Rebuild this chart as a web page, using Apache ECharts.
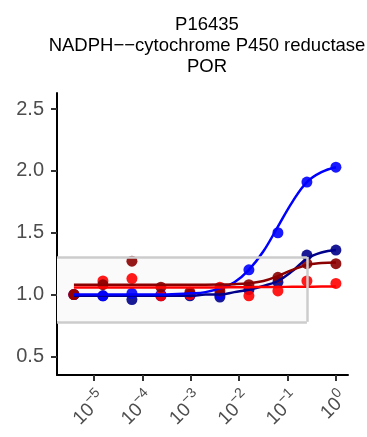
<!DOCTYPE html>
<html>
<head>
<meta charset="utf-8">
<script src="https://cdn.jsdelivr.net/npm/echarts@6/dist/echarts.min.js"></script>
<style>
  html, body { margin: 0; padding: 0; background: #fff; }
  #chart { width: 367px; height: 437px; }
</style>
</head>
<body>
<div id="chart"></div>
<script>
// log10 of dose for the measured points
var logDose = [-5.42, -4.82, -4.22, -3.62, -3.02, -2.40, -1.80, -1.20, -0.60, 0];
var bluePts   = [1.00, 0.99, 1.01, 1.00, 1.00, 1.00, 1.20, 1.50, 1.91, 2.03];
var navyPts   = [1.00, 0.99, 0.96, 0.99, 0.99, 0.98, 1.04, 1.10, 1.32, 1.36];
var redPts    = [1.00, 1.11, 1.13, 0.99, 1.00, 1.06, 0.99, 1.03, 1.11, 1.09];
var maroonPts = [1.00, 1.08, 1.27, 1.06, 1.02, 1.03, 1.08, 1.14, 1.25, 1.25];

// fitted curves
var curveDose   = [-5.42, -4.5, -3.6, -3.0, -2.7, -2.4, -2.1, -1.8, -1.5, -1.2, -0.9, -0.6, -0.3, 0];
var blueCurve   = [1.00, 1.00, 1.00, 1.01, 1.02, 1.05, 1.10, 1.20, 1.35, 1.55, 1.75, 1.91, 1.99, 2.03];
var navyCurve   = [0.99, 0.99, 0.99, 0.99, 1.00, 1.00, 1.02, 1.04, 1.07, 1.11, 1.19, 1.29, 1.34, 1.36];
var redCurve    = [1.058, 1.058, 1.058, 1.058, 1.058, 1.058, 1.059, 1.06, 1.061, 1.062, 1.063, 1.064, 1.065, 1.065];
var maroonCurve = [1.08, 1.08, 1.08, 1.08, 1.08, 1.081, 1.084, 1.092, 1.11, 1.15, 1.20, 1.24, 1.255, 1.26];

var xTicks = [-5, -4, -3, -2, -1, 0];
var yTicks = [0.5, 1.0, 1.5, 2.0, 2.5];
var xRange = [-5.77, 0.25];
var yRange = [0.35, 2.63];
var boxX = [-5.77, -0.6];
var boxY = [0.78, 1.305];

var titleText = 'P16435\nNADPH\u2212\u2212cytochrome P450 reductase\nPOR';

function pairs(xs, ys) {
    var out = [];
    for (var i = 0; i < xs.length; i++) {
        out.push([xs[i], ys[i]]);
    }
    return out;
}

var colors = {blue: '#0000ff', navy: '#00008b', red: '#ff0000', maroon: '#8b0000'};
var order = [
    ['navy', navyCurve, navyPts],
    ['blue', blueCurve, bluePts],
    ['red', redCurve, redPts],
    ['maroon', maroonCurve, maroonPts]
];

// grey box: light fill, border on top, bottom and right (left side runs into the axis)
var series = [{
    type: 'line',
    data: [],
    silent: true,
    markArea: {
        silent: true,
        itemStyle: {color: '#fafafa'},
        data: [[{xAxis: boxX[0], yAxis: boxY[1]}, {xAxis: boxX[1], yAxis: boxY[0]}]]
    },
    markLine: {
        silent: true,
        symbol: 'none',
        label: {show: false},
        lineStyle: {color: '#cccccc', width: 2.5, type: 'solid'},
        data: [
            [{coord: [boxX[0], boxY[1]]}, {coord: [boxX[1], boxY[1]]}],
            [{coord: [boxX[0], boxY[0]]}, {coord: [boxX[1], boxY[0]]}],
            [{coord: [boxX[1], boxY[0]]}, {coord: [boxX[1], boxY[1]]}]
        ]
    }
}];
order.forEach(function (o) {
    series.push({
        type: 'line',
        data: pairs(curveDose, o[1]),
        smooth: 0.4,
        symbol: 'none',
        lineStyle: {color: colors[o[0]], width: 2.5},
        silent: true
    });
});
order.forEach(function (o) {
    series.push({
        type: 'scatter',
        data: pairs(logDose, o[2]),
        symbolSize: 11,
        itemStyle: {color: colors[o[0]], opacity: 0.9},
        silent: true
    });
});

var chart = echarts.init(document.getElementById('chart'), null, {renderer: 'canvas'});
chart.setOption({
    animation: false,
    textStyle: {fontFamily: 'Liberation Sans'},
    title: {
        text: titleText,
        left: 202,
        top: 9,
        textAlign: 'center',
        textStyle: {fontSize: 18.5, lineHeight: 21, fontWeight: 'normal', color: '#000'}
    },
    grid: {left: 57, right: 19, top: 93, bottom: 62},
    xAxis: {
        type: 'value',
        min: xRange[0],
        max: xRange[1],
        splitLine: {show: false},
        axisLine: {onZero: false, lineStyle: {color: '#000', width: 2}},
        axisTick: {show: true, length: 6, lineStyle: {color: '#333', width: 2}, customValues: xTicks},
        axisLabel: {
            customValues: xTicks,
            rotate: 45,
            margin: 12,
            padding: [24, 0, 0, 0],
            color: '#4d4d4d',
            formatter: function (v) {
                return '{b|10}{s|' + String(v).replace('-', '\u2212') + '}';
            },
            rich: {
                b: {fontSize: 19, color: '#4d4d4d'},
                s: {fontSize: 14, color: '#4d4d4d', padding: [0, 0, 14, 0]}
            }
        }
    },
    yAxis: {
        type: 'value',
        min: yRange[0],
        max: yRange[1],
        splitLine: {show: false},
        axisLine: {show: true, onZero: false, lineStyle: {color: '#000', width: 2}},
        axisTick: {show: true, length: 6, lineStyle: {color: '#333', width: 2}, customValues: yTicks},
        axisLabel: {
            customValues: yTicks,
            margin: 13,
            fontSize: 20,
            color: '#4d4d4d',
            formatter: function (v) { return v.toFixed(1); }
        }
    },
    series: series
});
</script>
</body>
</html>
